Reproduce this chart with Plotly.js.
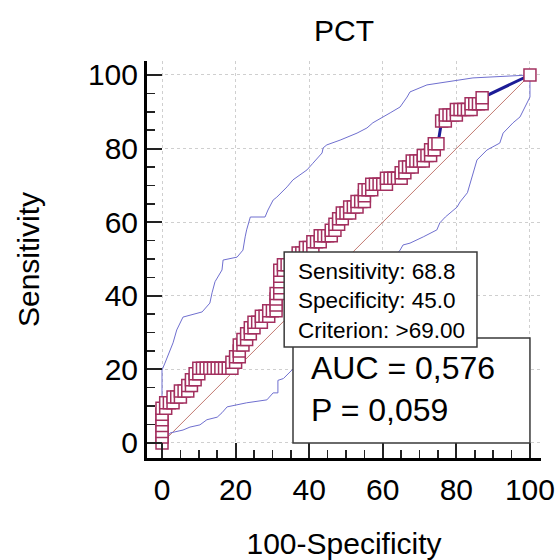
<!DOCTYPE html>
<html>
<head>
<meta charset="utf-8">
<script src="https://cdn.plot.ly/plotly-3.0.1.min.js"></script>
<style>html,body{margin:0;padding:0;background:#fff;}#chart{width:560px;height:560px;}</style>
</head>
<body>
<div id="chart"></div>
<script>
// ROC curve points: 100-Specificity (x) and Sensitivity (y)
var rocX = [0,0,0,0,0,0,0,1,1,2,3,3,4,5,5,6,7,7,8,8,9,9,10,10,11,12,13,14,15,16,17,18,19,19,20,20,21,21,21,22,22,23,23,24,24,25,25,26,27,27,28,29,29,30,31,31,31,31,32,32,32,32,32,33,33,34,35,35,36,37,37,38,39,39,40,41,41,42,43,43,44,45,46,46,47,47,48,48,49,49,50,51,51,52,53,53,54,55,55,55,56,57,57,58,59,60,61,61,62,63,64,65,65,66,66,67,68,68,69,70,71,71,72,73,73,74,74,75,76,77,77,78,79,80,80,81,82,83,84,84,85,86,87,87,100];
var rocY = [0,1.6,3.1,4.7,6.3,7.8,9.4,9.4,10.9,10.9,10.9,12.5,12.5,12.5,14.1,14.1,14.1,15.6,15.6,17.2,17.2,18.8,18.8,20.3,20.3,20.3,20.3,20.3,20.3,20.3,20.3,20.3,20.3,21.9,21.9,23.4,23.4,25,26.6,26.6,28.1,28.1,29.7,29.7,31.3,31.3,32.8,32.8,32.8,34.4,34.4,34.4,35.9,35.9,35.9,37.5,39.1,40.6,40.6,42.2,43.8,45.3,46.9,46.9,48.4,48.4,48.4,50,50,50,51.6,51.6,51.6,53.1,53.1,53.1,54.7,54.7,54.7,56.3,56.3,56.3,56.3,57.8,57.8,59.4,59.4,60.9,60.9,62.5,62.5,62.5,64.1,64.1,64.1,65.6,65.6,65.6,67.2,68.8,68.8,68.8,70.3,70.3,70.3,70.3,70.3,71.9,71.9,71.9,71.9,71.9,73.4,73.4,75,75,75,76.6,76.6,76.6,76.6,78.1,78.1,78.1,79.7,79.7,81.3,81.3,87.5,87.5,89.1,89.1,89.1,89.1,90.6,90.6,90.6,90.6,90.6,92.2,92.2,92.2,92.2,93.8,100];

// Upper 95% confidence bound
var upperX = [0,0,0.8,2.2,3,4,5.7,10.9,13,13.6,14.4,16.3,16.6,20.4,22,22.6,23,24,28,28.8,30.2,31.2,34,35.6,39.4,41,43.5,43.8,44.8,48.4,53,55.7,57.3,62,64.7,66.6,67.4,72,76.4,84.5,100];
var upperY = [0,19.8,21.7,25.3,27.2,30.7,34.2,35.6,38,40.8,43.8,47,49.7,50.5,52.4,56,57.9,61.4,61.4,63.3,66,66.8,69.6,71.5,74.2,76,78.8,80.2,81,82.3,84.2,85.6,87,89.7,91.3,94,95.4,97.3,98,99.2,100];

// Lower 95% confidence bound
var lowerX = [0,0.8,1.4,2.2,5.7,7.6,10.3,12.2,15,16.3,17.7,23,28.5,30.2,31.5,31.5,33,35.3,40,45,50,55,60,64.7,65.5,67.4,71,72.8,74.7,75.5,77,80.2,81,83,84.5,85.6,88.3,91.8,92.7,95.4,97.3,100,100];
var lowerY = [0,0,1.6,2.7,3.5,4.3,4.9,6.3,7,8.2,9.8,10.9,11.7,13.6,13.6,17,17.5,19.8,24,29,35,41,47,52.4,53.8,54.3,56,57,57.9,59.8,61.4,64.1,65.5,68,73.4,76.9,79.6,81.5,84.2,87,88.6,94,100];

// Reference diagonal
var diagX = [0,100];
var diagY = [0,100];

var tickVals = [0,20,40,60,80,100];
var tickText = ['0','20','40','60','80','100'];

var FONT = 'Liberation Sans, Arial, Helvetica, sans-serif';

var traces = [
  {x: diagX, y: diagY, mode: 'lines', line: {color: '#c27a72', width: 1}, hoverinfo: 'skip'},
  {x: upperX, y: upperY, mode: 'lines', line: {color: '#6f6fcf', width: 1}},
  {x: lowerX, y: lowerY, mode: 'lines', line: {color: '#6f6fcf', width: 1}},
  {x: rocX, y: rocY, mode: 'lines', line: {color: '#1c1c96', width: 3}},
  {x: rocX, y: rocY, mode: 'markers', marker: {symbol: 'square', size: 12, color: '#ffffff', line: {width: 1.5, color: '#a3305f'}}}
];

var axisCommon = {
  showline: true, linecolor: '#000', linewidth: 3, mirror: false,
  zeroline: false,
  showgrid: true, gridcolor: '#cfcfcf', gridwidth: 1, griddash: 'dot',
  ticks: 'inside', ticklen: 15, tickwidth: 2, tickcolor: '#222',
  tickvals: tickVals, ticktext: tickText,
  tickfont: {family: FONT, size: 30, color: '#000'},
  minor: {dtick: 5, tick0: 0, ticks: 'inside', ticklen: 8, tickwidth: 1.5, tickcolor: '#222', showgrid: false},
  fixedrange: true
};

var layout = {
  width: 560, height: 560,
  margin: {l: 147, r: 19, t: 61, b: 102, pad: 0},
  paper_bgcolor: '#fff', plot_bgcolor: '#fff',
  showlegend: false,
  font: {family: FONT, color: '#000'},
  title: {text: 'PCT', font: {family: FONT, size: 30, color: '#000'}, x: 0.5, xref: 'paper', y: 0.945, yref: 'container', yanchor: 'middle'},
  xaxis: Object.assign({}, axisCommon, {
    range: [-4.08, 103],
    ticklabelstandoff: 3,
    title: {text: '100-Specificity', font: {family: FONT, size: 30, color: '#000'}, standoff: 29}
  }),
  yaxis: Object.assign({}, axisCommon, {
    range: [-4.1, 103.8],
    title: {text: 'Sensitivity', font: {family: FONT, size: 30, color: '#000'}, standoff: 40}
  }),
  shapes: [
    {type: 'rect', xref: 'x', yref: 'y', x0: 35.6, x1: 100, y0: 0, y1: 28.5, layer: 'above', fillcolor: '#fff', line: {color: '#3a3a3a', width: 1.5}},
    {type: 'rect', xref: 'x', yref: 'y', x0: 33.2, x1: 85.6, y0: 26.1, y1: 51.9, layer: 'above', fillcolor: '#fff', line: {color: '#3a3a3a', width: 1.5}}
  ],
  annotations: [
    {xref: 'x', yref: 'y', x: 36.3, y: 38.6, xanchor: 'left', yanchor: 'middle', align: 'left', showarrow: false,
     text: 'Sensitivity: 68.8<br>Specificity: 45.0<br>Criterion: >69.00', font: {family: FONT, size: 22.5, color: '#000'}},
    {xref: 'x', yref: 'y', x: 40.0, y: 14.6, xanchor: 'left', yanchor: 'middle', align: 'left', showarrow: false,
     text: 'AUC = 0,576<br>P = 0,059', font: {family: FONT, size: 32, color: '#000'}}
  ]
};

Plotly.newPlot('chart', traces, layout, {displayModeBar: false, staticPlot: true});
</script>
</body>
</html>
